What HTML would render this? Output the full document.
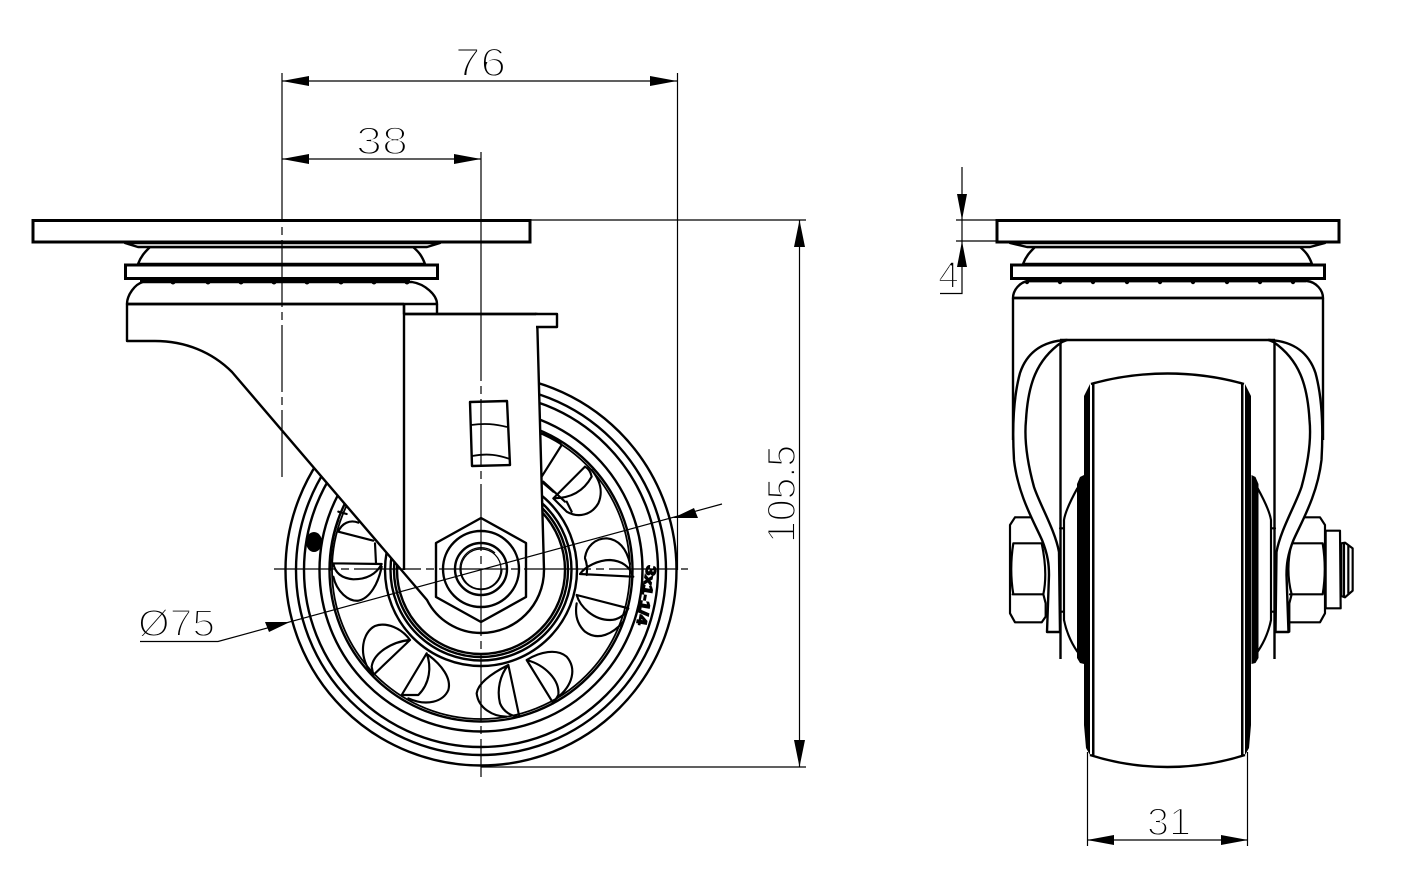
<!DOCTYPE html>
<html><head><meta charset="utf-8"><style>
html,body{margin:0;padding:0;background:#fff}
svg{display:block}
text{font-family:"Liberation Sans",sans-serif;fill:#000;stroke:#fff;stroke-width:1.9px}
.b{fill:none;stroke:#000;stroke-width:2.4;stroke-linejoin:round}
.w{fill:#fff;stroke:#000;stroke-width:2.4;stroke-linejoin:round}
.p{fill:#fff;stroke:#000;stroke-width:3}
.t{fill:none;stroke:#000;stroke-width:1.2}
.z{fill:none;stroke:#000;stroke-width:6.5;stroke-linejoin:round;stroke-linecap:round}
.zw{fill:#fff;stroke:#000;stroke-width:6.5;stroke-linejoin:round}
</style></head><body>
<svg width="1409" height="877" viewBox="0 0 1409 877" xmlns="http://www.w3.org/2000/svg">
<rect width="1409" height="877" fill="#fff"/>

<!-- FRONT VIEW: wheel -->
<g class="b">
<circle cx="481" cy="570" r="195.5"/><circle cx="481" cy="570" r="185"/><circle cx="481" cy="570" r="177"/>
<circle cx="481" cy="570" r="161.5"/><circle cx="481" cy="570" r="151.5"/>
</g>
<g class="b" style="stroke-width:1.8"><circle cx="481" cy="570" r="149"/></g>
<ellipse cx="314" cy="542" rx="8" ry="10" fill="#000"/>
<text transform="translate(647 565) rotate(100)" font-size="14" font-weight="bold" textLength="60" lengthAdjust="spacingAndGlyphs" style="stroke:#000;stroke-width:1.3px">3x1-1/4</text>

<g transform="translate(270 370) scale(.33333)">
<!-- pods -->
<path class="z" d="M875,225L815,320M810,190C840,195 860,205 875,225M945,290L850,385C885,385 935,375 965,320C962,305 955,295 945,290M965,300C990,330 1000,365 985,400C965,435 925,445 890,425L850,385M815,335L850,365M890,395L905,425"/>
<path class="z" d="M930,612L1090,620M930,612C945,590 985,570 1020,570C1055,572 1080,590 1088,618M945,562C950,530 975,505 1010,505C1045,508 1070,535 1080,582M945,565C955,590 950,610 950,615"/>
<path class="z" d="M920,675L1075,715M920,675C930,710 970,750 1020,750C1045,750 1065,735 1075,715M920,700C915,730 918,760 945,785C985,815 1030,790 1060,755"/>
<path class="z" d="M770,870L850,1000M770,870C825,885 870,930 865,975L850,1000M770,870C810,845 860,835 890,860C920,895 910,945 860,985"/>
<path class="z" d="M715,885L748,1040M715,885C690,915 680,960 690,1000C700,1025 725,1040 748,1040M715,885C675,905 625,935 620,970C625,1015 670,1040 710,1040"/>
<path class="z" d="M470,850L395,975M470,850C485,890 480,940 445,975L395,975M475,855C515,885 545,925 535,960C520,995 470,1010 415,985"/>
<path class="z" d="M420,810L310,915M420,810C365,815 310,850 305,890L310,915M420,810C395,775 350,755 315,768C280,785 260,850 305,912"/>
<path class="z" d="M190,580L335,582C315,620 280,628 250,628C215,625 195,610 190,580M190,620C200,665 235,695 265,692C300,685 325,640 335,590M205,485L310,512M205,450C190,490 182,540 180,600M205,485C215,460 240,448 265,458M315,520L318,580M205,425L230,432"/>
<path class="z" d="M820,335L885,395"/>
</g>
<g class="b">
<circle cx="481" cy="570" r="96"/>
<circle cx="481" cy="570" r="90.5"/>
<circle cx="481" cy="570" r="87"/>
<circle cx="481" cy="570" r="84"/>
</g>

<!-- fork white body -->
<path class="w" d="M127,304L127,341L155,341C185,341 212,352 232,372L427,600C437,620 458,633 481,633C516,633 544,605 544,570L537,314L404,314L404,304Z"/>
<path class="b" d="M404,304V570"/>
<path class="w" d="M535,314H557V327H536"/>
<path class="b" d="M403,314H536"/>
<path class="b" d="M437,304V314"/>

<!-- window -->
<g class="b"><path d="M470,402L507,401L510,465L472,466Z"/><path style="stroke-width:1.8" d="M471,425C485,423 495,424 507,427M472,456C488,453 498,455 510,459"/></g>

<!-- hex nut -->
<path class="w" d="M481,518L526,543V597L481,622L436,597V543Z"/>
<circle class="b" cx="481" cy="569" r="38"/>
<circle class="b" cx="481" cy="569" r="26"/>
<circle class="t" cx="481" cy="569" r="20"/>
<path class="t" d="M495,553A21,21 0 1 0 502,569"/>

<!-- swivel head front -->
<path class="w" d="M138,264C141,256 145,252 150,247H413C419,252 422,256 425,264Z"/>
<path class="w" d="M125,243L138,247H427L440,243Z"/>
<rect class="p" x="33" y="220.500" width="497" height="21.500"/>
<path class="w" d="M127,304C127,295 135,284 143,282H412C425,284 437,295 437,304Z"/>
<rect class="p" x="125.500" y="265" width="312" height="13.500"/>
<path class="b" d="M140,281H410M127,304H404"/>
<g fill="#000"><circle cx="173" cy="282" r="2.500"/><circle cx="208" cy="282" r="2.500"/><circle cx="241" cy="282" r="2.500"/><circle cx="274" cy="282" r="2.500"/><circle cx="307" cy="282" r="2.500"/><circle cx="341" cy="282" r="2.500"/><circle cx="374" cy="282" r="2.500"/><circle cx="407" cy="282" r="2.500"/></g>
<path class="b" d="M143,282L142,278"/>

<!-- dimensions front -->
<g class="t">
<path d="M282,73V206"/>
<path d="M282,477V206" stroke-dasharray="67 5 8 5"/>
<path d="M481,152V342"/>
<path d="M481,342V777" stroke-dasharray="67 5 8 5" stroke-dashoffset="28"/>
<path d="M677.500,73V570"/>
<path d="M274,569H688" stroke-dasharray="67 5 8 5" stroke-dashoffset="5"/>
<path d="M282,81H677M282,159H481"/>
<path d="M531,220H806M481,767H806M799.500,220V767"/>
<path d="M722,504L218,641.500H140"/>
</g>
<g fill="#000">
<path d="M282,81L309,76V86ZM677,81L650,76V86Z"/>
<path d="M282,159L309,154V164ZM481,159L454,154V164Z"/>
<path d="M799.500,220L794,247H805ZM799.500,767L794,740H805Z"/>
<path d="M290,622L265,622L269,632ZM673,518L698,518L694,508Z"/>
</g>
<text x="455" y="76" font-size="40" textLength="51" lengthAdjust="spacingAndGlyphs">76</text>
<text x="356" y="154" font-size="39" textLength="52" lengthAdjust="spacingAndGlyphs">38</text>
<text x="138" y="636" font-size="38" textLength="77" lengthAdjust="spacingAndGlyphs">Ø75</text>
<text transform="translate(795 543) rotate(-90)" font-size="40" textLength="98" lengthAdjust="spacingAndGlyphs">105.5</text>

<!-- SIDE VIEW -->
<path class="w" d="M1023,264C1026,256 1030,252 1035,247H1300C1306,252 1309,256 1312,264Z"/>
<path class="w" d="M1010,243L1027,247H1310L1325,243Z"/>
<rect class="p" x="997" y="220.500" width="342" height="21.500"/>
<path class="w" d="M1013,298C1013,290 1020,282 1028,281H1307C1316,282 1323,290 1323,298Z"/>
<rect class="p" x="1011.500" y="265" width="313" height="13.500"/>
<path class="b" d="M1027,281H1306M1013,298H1323M1013,298V440M1323,298V440"/>
<g fill="#000"><circle cx="1027" cy="282" r="2.200"/><circle cx="1060" cy="282" r="2.200"/><circle cx="1093" cy="282" r="2.200"/><circle cx="1127" cy="282" r="2.200"/><circle cx="1160" cy="282" r="2.200"/><circle cx="1193" cy="282" r="2.200"/><circle cx="1227" cy="282" r="2.200"/><circle cx="1260" cy="282" r="2.200"/><circle cx="1293" cy="282" r="2.200"/></g>
<path class="b" d="M1060,340H1275M1060.500,343V659M1274.500,343V659"/>

<!-- nuts -->
<g transform="translate(990 460) scale(.33333)">
<path class="z" d="M75,172L60,195V460L75,487H155L167,470V430L160,403C168,365 170,320 155,250M70,250H155M68,403H160M70,250C62,300 62,355 70,403M125,172H75"/>
<path class="z" d="M945,172H990L1005,195V460L990,487H900M900,250H998M900,403H998M998,250C1006,300 1006,355 998,403M905,250C892,300 892,355 905,403M905,403L898,430V487V515H860"/>
<path class="zw" d="M1007,212H1050L1052,445H1007Z"/>
<path class="z" d="M1054,250L1065,248L1088,265V392L1065,412L1054,408ZM1062,250V410M1075,258V400"/>
</g>

<!-- strands -->
<g>
<path class="w" d="M1067,340C1040,341 1026,355 1020,373C1014,395 1012,425 1014,460C1018,495 1034,522 1042,540C1048,555 1049,565 1049,575L1047,632L1060,632L1059,552C1055,530 1040,505 1034,487C1028,465 1024,440 1026,420C1028,385 1036,360 1062,342Z"/>
<path class="w" d="M1268.500,340C1295.500,341 1309.500,355 1315.500,373C1321.500,395 1323.500,425 1321.500,460C1317.500,495 1301.500,522 1293.500,540C1287.500,555 1286.500,565 1286.500,575L1288.500,632L1275.500,632L1276.500,552C1280.500,530 1295.500,505 1301.500,487C1307.500,465 1311.500,440 1309.500,420C1307.500,385 1299.500,360 1273.500,342Z"/>
</g>

<!-- hub side -->
<g transform="translate(990 460) scale(.33333)">
<path class="z" d="M262,85C240,125 225,160 222,180V480C230,520 245,550 262,575M210,205H220M210,455H220"/>
<path class="z" d="M803,85C825,125 840,160 843,180V480C835,520 820,550 803,575M855,205H845M855,455H845"/>
</g>
<path fill="#000" d="M1077,484L1080,477L1084,475V664L1080,663L1077,658Z"/>
<path fill="#000" d="M1258.500,484L1255.500,477L1251.500,475V664L1255.500,663L1258.500,658Z"/>

<!-- wheel tread -->
<path fill="#fff" d="M1092,384C1140,370 1195,370 1243,384L1251,394V730L1243,755C1195,771 1140,771 1092,755L1084,730V394Z"/>
<path fill="#000" d="M1084,396L1090,384V755L1086,748L1084,725Z"/>
<path fill="#000" d="M1251,396L1245,384V755L1249,748L1251,725Z"/>
<path fill="#000" d="M1092,384H1094.500V755H1092ZM1241,384H1243.500V755H1241Z"/>
<path class="b" d="M1091,384C1140,370 1195,370 1244,384M1090,755C1140,771 1195,771 1245,755"/>

<!-- dims side -->
<g class="t">
<path d="M962,167V293.500H940M956,220H996M956,241H996"/>
<path d="M1087.500,752V846M1247.500,752V846M1087,840H1248"/>
</g>
<g fill="#000">
<path d="M962,220L957,194H967ZM962,241L957,267H967Z"/>
<path d="M1087,840L1114,835V845ZM1248,840L1221,835V845Z"/>
</g>
<text x="938" y="288" font-size="38" textLength="21" lengthAdjust="spacingAndGlyphs">4</text>
<text x="1147" y="835" font-size="39" textLength="44" lengthAdjust="spacingAndGlyphs">31</text>
</svg>
</body></html>
